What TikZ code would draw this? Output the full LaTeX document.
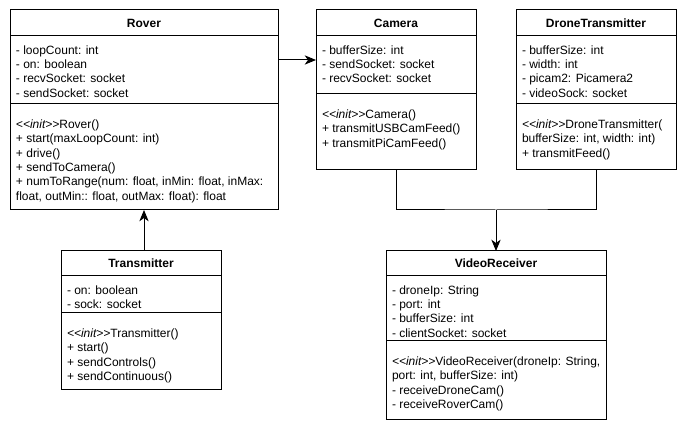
\documentclass[tikz,border=0pt]{standalone}
\usepackage{fontspec}
\setmainfont{Liberation Sans}
\usetikzlibrary{positioning}
\usetikzlibrary{arrows.meta}

\newcommand{\umlfont}{\fontsize{9}{10.7}\selectfont}
\newcommand{\umlinit}{\textit{<{}<init>{}>}}

\tikzset{
  umltitle/.style={draw, anchor=north west, minimum height=19.5pt, inner sep=0pt, outer sep=0pt, font=\umlfont\bfseries},
  umlpart/.style n args={3}{draw, anchor=north west, inner xsep=4.5pt, inner ysep=0pt, outer sep=0pt, font=\umlfont,
    execute at begin node={\begin{minipage}[t][#2][t]{#1}\vspace{#3}},
    execute at end node={\end{minipage}}},
  umlattr/.style 2 args={umlpart={#1}{#2}{7.25pt}},
  umlops/.style 2 args={umlpart={#1}{#2}{12pt}},
  umlarrow/.style={-{Stealth[length=8.5pt,width=7pt,inset=2.5pt]}},
}

\begin{document}
\begin{tikzpicture}[x=0.75pt, y=-0.75pt, line width=0.75pt]
\useasboundingbox (0,0) rectangle (686,434);

% top row
\node (rover) [umltitle, minimum width=201pt] at (10,10) {Rover};
\node (rover-a) [umlattr={192pt}{51pt}, below=0pt of rover] {- loopCount: int\\ - on: boolean\\ - recvSocket: socket\\ - sendSocket: socket};
\node (rover-o) [umlops={192pt}{79.5pt}, below=0pt of rover-a] {\umlinit Rover()\\ + start(maxLoopCount: int)\\ + drive()\\ + sendToCamera()\\ + numToRange(num: float, inMin: float, inMax:\\ float, outMin:: float, outMax: float): float};

\node (cam) [umltitle, minimum width=120pt] at (316,10) {Camera};
\node (cam-a) [umlattr={111pt}{43.5pt}, below=0pt of cam] {- bufferSize: int\\ - sendSocket: socket\\ - recvSocket: socket};
\node (cam-o) [umlops={111pt}{57pt}, below=0pt of cam-a] {\umlinit Camera()\\ + transmitUSBCamFeed()\\ + transmitPiCamFeed()};

\node (dt) [umltitle, minimum width=120pt] at (516,10) {DroneTransmitter};
\node (dt-a) [umlattr={111pt}{51pt}, below=0pt of dt] {- bufferSize: int\\ - width: int\\ - picam2: Picamera2\\ - videoSock: socket};
\node (dt-o) [umlops={111pt}{49.5pt}, below=0pt of dt-a] {\umlinit DroneTransmitter(\\ bufferSize: int, width: int)\\ + transmitFeed()};

% bottom row
\node (tr) [umltitle, minimum width=120pt, minimum height=18.75pt] at (61,251) {Transmitter};
\node (tr-a) [umlattr={111pt}{27.75pt}, below=0pt of tr] {- on: boolean\\ - sock: socket};
\node (tr-o) [umlops={111pt}{57.75pt}, below=0pt of tr-a] {\umlinit Transmitter()\\ + start()\\ + sendControls()\\ + sendContinuous()};

\node (vr) [umltitle, minimum width=165pt, minimum height=18.75pt] at (386,251) {VideoReceiver};
\node (vr-a) [umlattr={156pt}{48.75pt}, below=0pt of vr] {- droneIp: String\\ - port: int\\ - bufferSize: int\\ - clientSocket: socket};
\node (vr-o) [umlops={156pt}{59.25pt}, below=0pt of vr-a] {\mbox{\umlinit VideoReceiver(droneIp: String,}\\ port: int, bufferSize: int)\\ - receiveDroneCam()\\ - receiveRoverCam()};

% links
\draw[umlarrow] ([yshift=7.5pt]rover-a.east) -- ([yshift=7.5pt]rover-a.east -| cam-a.west);
\draw[umlarrow] (tr.north -| rover-o.south) -- (rover-o.south);
\coordinate (join) at ([yshift=-30pt]cam-o.south -| vr.north);
\draw (cam-o.south) |- (join) -| (dt-o.south);
\draw[umlarrow] (join) -- (vr.north);
\end{tikzpicture}
\end{document}
